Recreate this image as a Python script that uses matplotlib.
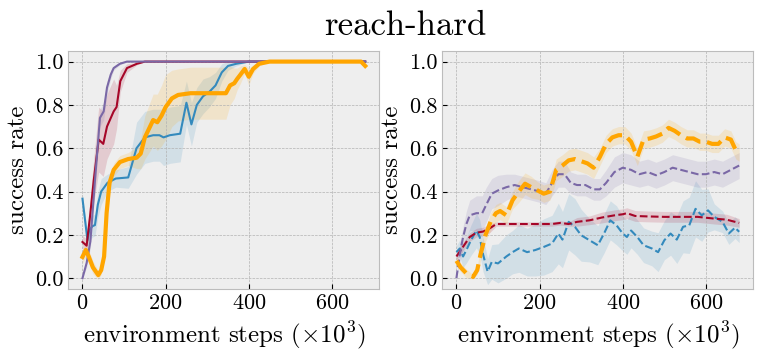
import matplotlib
matplotlib.use("Agg")
import matplotlib.pyplot as plt

# ---- left panel data (x in 1e3 env steps) ----
purple_x = [0, 10, 19, 30, 42, 51, 59, 68, 75, 90, 107, 130, 160, 680]
purple_y = [0.0, 0.07, 0.17, 0.45, 0.74, 0.77, 0.88, 0.94, 0.97, 0.99, 1.0, 1.0, 1.0, 1.0]
purple_s = [0.0, 0.02, 0.03, 0.05, 0.04, 0.04, 0.03, 0.02, 0.01, 0.005, 0, 0, 0, 0]

red_x = [0, 10, 19, 27, 39, 50, 59, 75, 82, 91, 107, 131, 150, 680]
red_y = [0.167, 0.15, 0.30, 0.45, 0.64, 0.62, 0.70, 0.77, 0.79, 0.91, 0.97, 0.99, 1.0, 1.0]
red_s = [0.03, 0.03, 0.08, 0.10, 0.15, 0.15, 0.15, 0.15, 0.10, 0.05, 0.02, 0.005, 0, 0]

blue_x = [0, 12, 16, 24, 30, 37, 45, 60, 80, 110, 130, 150, 170, 185, 195, 210,
          235, 250, 262, 275, 290, 305, 320, 335, 350, 370, 400, 680]
blue_y = [0.367, 0.175, 0.22, 0.24, 0.245, 0.34, 0.40, 0.44, 0.46, 0.465, 0.60, 0.65,
          0.66, 0.66, 0.65, 0.66, 0.667, 0.81, 0.71, 0.80, 0.84, 0.86, 0.89, 0.95,
          0.98, 0.99, 1.0, 1.0]
blue_s = [0.02, 0.03, 0.05, 0.05, 0.05, 0.06, 0.06, 0.04, 0.04, 0.05, 0.12, 0.12,
          0.12, 0.12, 0.13, 0.13, 0.13, 0.10, 0.10, 0.08, 0.08, 0.07, 0.06, 0.04,
          0.02, 0.01, 0, 0]

orange_x = [0, 8, 15, 25, 38, 45, 52, 58, 65, 75, 90, 110, 130, 140, 150, 160, 170,
            180, 190, 200, 215, 230, 260, 300, 345, 355, 365, 372, 380, 390, 400,
            410, 425, 450, 670, 680]
orange_y = [0.098, 0.13, 0.10, 0.05, 0.014, 0.037, 0.10, 0.30, 0.44, 0.50, 0.536,
            0.55, 0.556, 0.575, 0.65, 0.69, 0.73, 0.72, 0.75, 0.79, 0.83, 0.846,
            0.854, 0.854, 0.854, 0.89, 0.90, 0.92, 0.94, 0.966, 0.93, 0.965, 0.99,
            1.0, 1.0, 0.98]
orange_s = [0.03, 0.03, 0.03, 0.03, 0.02, 0.02, 0.02, 0.03, 0.03, 0.03, 0.03, 0.03,
            0.05, 0.07, 0.10, 0.11, 0.12, 0.13, 0.14, 0.15, 0.13, 0.12, 0.12, 0.12,
            0.12, 0.09, 0.07, 0.05, 0.04, 0.02, 0.04, 0.02, 0.01, 0, 0, 0]

# ---- right panel data ----
purple2_x = [0, 8, 16, 24, 32, 48, 62, 72, 85, 100, 120, 140, 160, 180, 200, 215, 230,
             245, 260, 275, 290, 310, 330, 345, 360, 380, 400, 420, 440, 460, 480,
             500, 520, 540, 560, 580, 600, 620, 640, 660, 680]
purple2_y = [0.0, 0.11, 0.19, 0.25, 0.29, 0.30, 0.30, 0.34, 0.39, 0.405, 0.42, 0.43,
             0.42, 0.41, 0.40, 0.39, 0.44, 0.48, 0.48, 0.44, 0.43, 0.43, 0.41, 0.41,
             0.44, 0.49, 0.51, 0.50, 0.48, 0.49, 0.475, 0.49, 0.51, 0.50, 0.49, 0.48,
             0.48, 0.49, 0.48, 0.50, 0.52]
purple2_s = [0.0, 0.04, 0.05, 0.06, 0.07, 0.08, 0.08, 0.08, 0.07, 0.07, 0.06, 0.05,
             0.05, 0.05, 0.05, 0.05, 0.06, 0.06, 0.06, 0.05, 0.05, 0.05, 0.05, 0.05,
             0.06, 0.07, 0.07, 0.07, 0.06, 0.06, 0.06, 0.06, 0.06, 0.06, 0.06, 0.06,
             0.06, 0.06, 0.06, 0.06, 0.06]

red2_x = [0, 16, 32, 48, 64, 80, 96, 110, 230, 250, 270, 290, 320, 350, 380, 400, 410,
          430, 460, 500, 540, 580, 620, 650, 680]
red2_y = [0.10, 0.145, 0.19, 0.21, 0.215, 0.23, 0.25, 0.25, 0.25, 0.255, 0.25, 0.26,
          0.267, 0.28, 0.29, 0.295, 0.30, 0.287, 0.285, 0.283, 0.283, 0.283, 0.275,
          0.27, 0.255]
red2_s = [0.02, 0.02, 0.02, 0.02, 0.02, 0.02, 0.01, 0.01, 0.01, 0.01, 0.01, 0.02,
          0.02, 0.025, 0.025, 0.025, 0.025, 0.025, 0.025, 0.025, 0.025, 0.025, 0.025,
          0.025, 0.02]

blue2_x = [0, 8, 16, 24, 35, 48, 56, 64, 75, 85, 100, 120, 135, 150, 170, 190, 210,
           230, 245, 255, 270, 285, 300, 320, 340, 355, 370, 385, 400, 410, 420, 435,
           450, 470, 485, 500, 515, 530, 545, 560, 575, 590, 605, 620, 640, 655, 670,
           680]
blue2_y = [0.12, 0.137, 0.10, 0.13, 0.175, 0.22, 0.19, 0.11, 0.03, 0.075, 0.068, 0.10,
           0.12, 0.137, 0.12, 0.13, 0.144, 0.16, 0.206, 0.178, 0.26, 0.237, 0.198,
           0.175, 0.152, 0.206, 0.267, 0.244, 0.206, 0.19, 0.22, 0.19, 0.152, 0.137,
           0.12, 0.175, 0.206, 0.178, 0.237, 0.244, 0.32, 0.29, 0.313, 0.283, 0.26,
           0.206, 0.233, 0.214]
blue2_s = [0.03, 0.04, 0.05, 0.06, 0.07, 0.08, 0.08, 0.08, 0.06, 0.08, 0.09, 0.10,
           0.10, 0.11, 0.11, 0.12, 0.13, 0.13, 0.14, 0.13, 0.13, 0.13, 0.12, 0.10,
           0.09, 0.09, 0.09, 0.09, 0.08, 0.08, 0.08, 0.08, 0.08, 0.08, 0.09, 0.09,
           0.10, 0.11, 0.12, 0.13, 0.13, 0.12, 0.10, 0.06, 0.05, 0.05, 0.05, 0.05]

orange2_x = [0, 10, 25, 40, 50, 58, 70, 82, 95, 105, 120, 135, 150, 165, 180, 195, 210,
             225, 240, 255, 270, 285, 300, 315, 330, 345, 360, 375, 390, 405, 420, 435,
             450, 465, 480, 495, 510, 525, 540, 555, 570, 585, 600, 615, 630, 645, 660,
             672, 680]
orange2_y = [0.08, 0.05, 0.02, 0.006, 0.037, 0.11, 0.20, 0.26, 0.30, 0.31, 0.29, 0.36,
             0.40, 0.436, 0.42, 0.405, 0.39, 0.40, 0.50, 0.52, 0.544, 0.55, 0.54, 0.53,
             0.51, 0.56, 0.62, 0.65, 0.66, 0.66, 0.63, 0.56, 0.64, 0.645, 0.654, 0.667,
             0.694, 0.68, 0.66, 0.645, 0.645, 0.63, 0.63, 0.62, 0.62, 0.65, 0.64, 0.59,
             0.58]
orange2_s = [0.02, 0.02, 0.02, 0.01, 0.02, 0.03, 0.03, 0.04, 0.04, 0.04, 0.04, 0.04,
             0.05, 0.05, 0.05, 0.04, 0.04, 0.04, 0.05, 0.05, 0.05, 0.05, 0.05, 0.05,
             0.05, 0.04, 0.04, 0.04, 0.04, 0.04, 0.04, 0.04, 0.04, 0.04, 0.04, 0.04,
             0.04, 0.04, 0.04, 0.04, 0.04, 0.04, 0.04, 0.04, 0.04, 0.04, 0.04, 0.04,
             0.04]

C_BLUE, C_RED, C_PURPLE, C_ORANGE = "#348ABD", "#A60628", "#7A68A6", "#FFA500"

plt.style.use("bmh")
plt.rcParams["font.family"] = "serif"
plt.rcParams["font.serif"] = ["cmr10"]
plt.rcParams["mathtext.fontset"] = "cm"
plt.rcParams["axes.formatter.use_mathtext"] = True


def band(ax, x, y, s, color, ls, lw, alpha=0.15):
    lo = [a - b for a, b in zip(y, s)]
    hi = [a + b for a, b in zip(y, s)]
    ax.fill_between(x, lo, hi, color=color, alpha=alpha, lw=0)
    ax.plot(x, y, color=color, ls=ls, lw=lw)


fig = plt.figure(figsize=(7.61, 3.55), dpi=100)
ax1 = fig.add_axes([0.0898, 0.186, 0.4087, 0.671])
ax2 = fig.add_axes([0.5812, 0.186, 0.4087, 0.671])

band(ax1, blue_x, blue_y, blue_s, C_BLUE, "-", 1.5)
band(ax1, red_x, red_y, red_s, C_RED, "-", 1.5)
band(ax1, purple_x, purple_y, purple_s, C_PURPLE, "-", 1.5)
band(ax1, orange_x, orange_y, orange_s, C_ORANGE, "-", 3.0)

band(ax2, blue2_x, blue2_y, blue2_s, C_BLUE, "--", 1.5)
band(ax2, red2_x, red2_y, red2_s, C_RED, "--", 1.5)
band(ax2, purple2_x, purple2_y, purple2_s, C_PURPLE, "--", 1.5)
band(ax2, orange2_x, orange2_y, orange2_s, C_ORANGE, "--", 3.0)

for ax in (ax1, ax2):
    ax.set_xlim(-34, 714)
    ax.set_ylim(-0.05, 1.05)
    ax.set_xticks([0, 200, 400, 600])
    ax.set_yticks([0.0, 0.2, 0.4, 0.6, 0.8, 1.0])
    ax.set_yticklabels(["0.0", "0.2", "0.4", "0.6", "0.8", "1.0"])
    ax.tick_params(labelsize=16)
    ax.set_xlabel(r"environment steps $(\times 10^3)$", fontsize=18)
    ax.set_ylabel("success rate", fontsize=18)

# title sits over the middle of the two panels, not the figure
fig.text(0.532, 0.901, "reach-hard", fontsize=25, ha="center", va="baseline")
fig.savefig("out.png", dpi=100)
